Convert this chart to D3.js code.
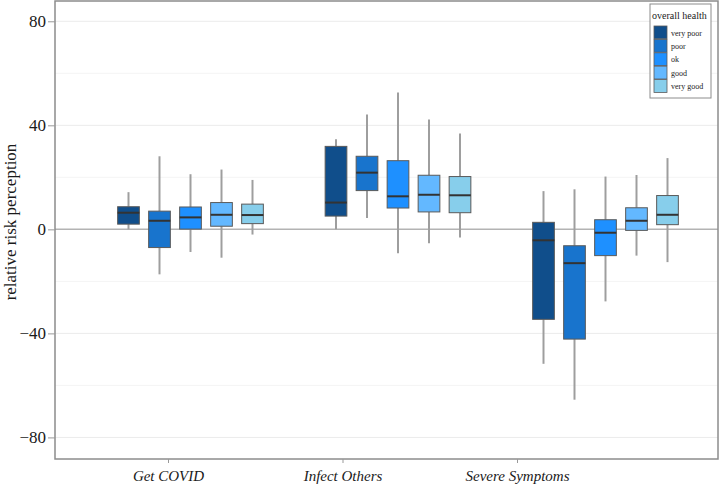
<!DOCTYPE html>
<html>
<head>
<meta charset="utf-8">
<script src="https://cdn.jsdelivr.net/npm/d3@7"></script>
<style>
  html, body { margin: 0; padding: 0; background: #fff; }
  svg { display: block; font-family: "Liberation Serif", "DejaVu Serif", serif; }
</style>
</head>
<body>
<svg id="chart" width="720" height="484"></svg>
<script>
// ---- data ----
const categories = ["Get COVID", "Infect Others", "Severe Symptoms"];
const levels = ["very poor", "poor", "ok", "good", "very good"];
const colors = ["#104E8B", "#1874CD", "#1E90FF", "#63B8FF", "#87CEEB"];
const yTicks = [-80, -40, 0, 40, 80];
const yMinor = [-60, -20, 20, 60];
// [whisker low, q1, median, q3, whisker high] per category, per level
const getCovid = [
  [0, 2.0, 6.4, 8.7, 14.3],
  [-17.3, -7.0, 3.3, 7.0, 28.1],
  [-8.7, 0.1, 4.6, 8.6, 21.2],
  [-10.9, 1.2, 5.6, 10.3, 23.0],
  [-2.0, 2.2, 5.5, 9.7, 19.0]
];
const infectOthers = [
  [0, 5.1, 10.3, 31.9, 34.6],
  [4.4, 14.9, 21.8, 28.1, 44.2],
  [-9.2, 8.2, 12.7, 26.4, 52.6],
  [-5.3, 6.7, 13.3, 20.8, 42.2],
  [-3.1, 6.4, 13.1, 20.3, 36.9]
];
const severeSymptoms = [
  [-51.7, -34.6, -4.2, 2.7, 14.7],
  [-65.5, -42.2, -13.0, -6.3, 15.4],
  [-27.7, -10.1, -1.3, 3.7, 20.3],
  [-10.1, -0.4, 3.3, 8.3, 20.9],
  [-12.6, 1.8, 5.6, 13.0, 27.4]
];
const seriesByCategory = [getCovid, infectOthers, severeSymptoms];

// ---- layout ----
const svg = d3.select("#chart");
const panel = { left: 55, right: 718, top: 1, bottom: 459 };

const y = d3.scaleLinear().domain([-88.3, 87.8]).range([panel.bottom, panel.top]);
const xGroup = d3.scalePoint().domain(categories).range([190.5, 605.5]);
const xTick = d3.scalePoint().domain(categories).range([168, 517]);
const xDodge = d3.scaleBand().domain(levels).range([-77.5, 77.5]);
const color = d3.scaleOrdinal().domain(levels).range(colors);
const boxW = xDodge.bandwidth() * 0.7;

// background panel
svg.append("rect").attr("x", panel.left).attr("y", panel.top)
  .attr("width", panel.right - panel.left).attr("height", panel.bottom - panel.top)
  .attr("fill", "#fff");

// grid
svg.append("g").selectAll("line").data(yMinor).join("line")
  .attr("x1", panel.left).attr("x2", panel.right)
  .attr("y1", d => y(d)).attr("y2", d => y(d))
  .attr("stroke", "#f4f4f4").attr("stroke-width", 1);
svg.append("g").selectAll("line").data(yTicks.filter(d => d !== 0)).join("line")
  .attr("x1", panel.left).attr("x2", panel.right)
  .attr("y1", d => y(d)).attr("y2", d => y(d))
  .attr("stroke", "#ebebeb").attr("stroke-width", 1);
// zero line
svg.append("line")
  .attr("x1", panel.left).attr("x2", panel.right)
  .attr("y1", y(0)).attr("y2", y(0))
  .attr("stroke", "#b3b3b3").attr("stroke-width", 1.5);

// boxes
const rows = [];
categories.forEach((c, ci) => {
  levels.forEach((l, li) => {
    const v = seriesByCategory[ci][li];
    rows.push({ cat: c, level: l, lo: v[0], q1: v[1], med: v[2], q3: v[3], hi: v[4] });
  });
});
const cx = d => xGroup(d.cat) + xDodge(d.level) + xDodge.bandwidth() / 2;

const g = svg.append("g");
const bx = g.selectAll("g.box").data(rows).join("g").attr("class", "box");
bx.append("line")
  .attr("x1", cx).attr("x2", cx)
  .attr("y1", d => y(d.hi)).attr("y2", d => y(d.q3))
  .attr("stroke", "#9e9e9e").attr("stroke-width", 2);
bx.append("line")
  .attr("x1", cx).attr("x2", cx)
  .attr("y1", d => y(d.q1)).attr("y2", d => y(d.lo))
  .attr("stroke", "#9e9e9e").attr("stroke-width", 2);
bx.append("rect")
  .attr("x", d => cx(d) - boxW / 2).attr("width", boxW)
  .attr("y", d => y(d.q3)).attr("height", d => y(d.q1) - y(d.q3))
  .attr("fill", d => color(d.level))
  .attr("stroke", "#5a5a5a").attr("stroke-width", 1);
bx.append("line")
  .attr("x1", d => cx(d) - boxW / 2).attr("x2", d => cx(d) + boxW / 2)
  .attr("y1", d => y(d.med)).attr("y2", d => y(d.med))
  .attr("stroke", "#333").attr("stroke-width", 2);

// panel border
svg.append("rect").attr("x", panel.left).attr("y", panel.top)
  .attr("width", panel.right - panel.left).attr("height", panel.bottom - panel.top)
  .attr("fill", "none").attr("stroke", "#8c8c8c").attr("stroke-width", 1.5);

// y axis
const yAxis = svg.append("g").attr("transform", `translate(${panel.left},0)`)
  .call(d3.axisLeft(y).tickValues(yTicks).tickSize(7).tickPadding(2)
    .tickFormat(d => d < 0 ? "\u2212" + Math.abs(d) : d));
yAxis.select(".domain").remove();
yAxis.selectAll(".tick line").attr("stroke", "#999");
yAxis.selectAll(".tick text").attr("fill", "#1a1a1a")
  .style("font-size", "17px").style("font-family", "'Liberation Serif', serif");

// x axis
const xAxis = svg.append("g").attr("transform", `translate(0,${panel.bottom})`)
  .call(d3.axisBottom(xTick).tickSize(4).tickPadding(7));
xAxis.select(".domain").remove();
xAxis.selectAll(".tick line").attr("stroke", "#999");
xAxis.selectAll(".tick text").attr("fill", "#1a1a1a")
  .style("font-size", "15px").style("font-style", "italic")
  .style("font-family", "'Liberation Serif', serif");

// y title
svg.append("text")
  .attr("transform", `translate(16,${(panel.top + panel.bottom) / 2 - 8}) rotate(-90)`)
  .attr("text-anchor", "middle")
  .attr("fill", "#1a1a1a")
  .style("font-size", "17px")
  .text("relative risk perception");

// legend
const lg = svg.append("g").attr("transform", "translate(650,4)");
lg.append("rect").attr("width", 61).attr("height", 94)
  .attr("fill", "#fff").attr("stroke", "#8c8c8c").attr("stroke-width", 1);
lg.append("text").attr("x", 2).attr("y", 15)
  .style("font-size", "10px").attr("fill", "#1a1a1a").text("overall health");
const keyH = 13.4;
const items = lg.selectAll("g.item").data(levels).join("g").attr("class", "item")
  .attr("transform", (d, i) => `translate(4,${22 + i * keyH})`);
items.append("rect").attr("width", 13).attr("height", keyH - 0.6)
  .attr("fill", d => color(d)).attr("stroke", "#5a5a5a").attr("stroke-width", 0.8);
items.append("text").attr("x", 17).attr("y", keyH / 2 + 3)
  .style("font-size", "8px").attr("fill", "#1a1a1a").text(d => d);
</script>
</body>
</html>
